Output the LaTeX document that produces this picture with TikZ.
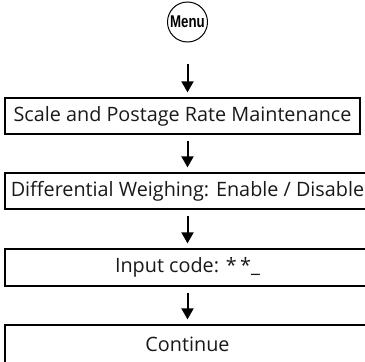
\documentclass[tikz,border=0pt]{standalone}
\usepackage{fontspec}
\setmainfont{Open Sans}
\newfontfamily\menufont{Liberation Sans}
\usetikzlibrary{arrows.meta}
\tikzset{
  stepbox/.style={draw, line width=1.3pt, inner sep=0pt, font=\fontsize{19.8}{22}\selectfont, text=black!90},
  arr/.style={line width=2pt, -{Triangle[length=11pt,width=12pt]}, shorten <=6pt, shorten >=5pt},
}
\begin{document}
\begin{tikzpicture}[x=1pt,y=-1pt]
\useasboundingbox (0,0) rectangle (365,362);
\clip (0,0) rectangle (365,362);
\node[draw, circle, line width=1pt, minimum size=40pt, inner sep=0pt] (menu) at (187.5,22)
  {\menufont\bfseries\fontsize{17}{17}\selectfont\scalebox{0.78}[1]{Menu}};
\node[stepbox, minimum width=355pt, minimum height=36pt] (b1) at (182.5,116) {Scale and Postage Rate Maintenance};
\node[stepbox, minimum width=365pt, minimum height=36pt] (b2) at (187.5,191) {Differential Weighing: Enable / Disable};
\node[stepbox, minimum width=365pt, minimum height=37pt] (b3) at (187.5,267.5) {Input code: *\,*\_};
\node[stepbox, minimum width=365pt, minimum height=38pt] (b4) at (187.5,344) {Continue};
\draw[arr, shorten <=21pt] (menu.south) -- (menu.south |- b1.north);
\draw[arr] (menu.south |- b1.south) -- (menu.south |- b2.north);
\draw[arr] (menu.south |- b2.south) -- (menu.south |- b3.north);
\draw[arr] (menu.south |- b3.south) -- (menu.south |- b4.north);
\end{tikzpicture}
\end{document}
